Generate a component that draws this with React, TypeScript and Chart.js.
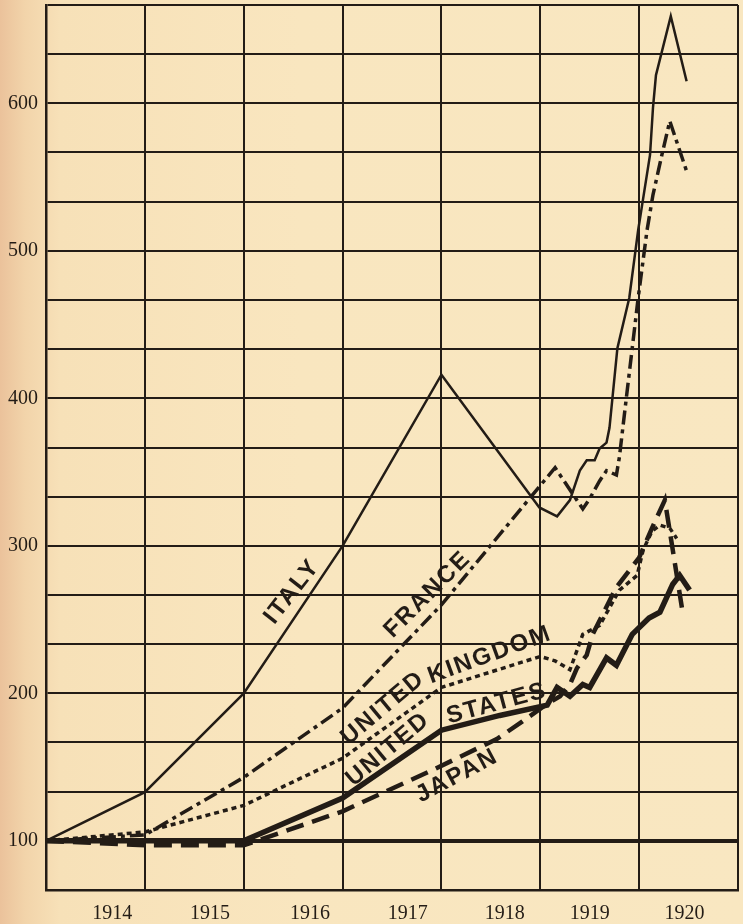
import React, { useEffect, useRef } from 'react';
import { Chart, registerables } from 'chart.js';
Chart.register(...registerables);

// ---- axes ----
const X_MIN = 0;
const X_MAX = 7;
const Y_MIN = 200 / 3;
const Y_MAX = 2000 / 3;
const Y_STEP = 100 / 3;
const GRID_X = [0, 1, 2, 3, 4, 5, 6, 7];
const Y_LABELED = [100, 200, 300, 400, 500, 600];
const YEAR_LABELS = ['1914', '1915', '1916', '1917', '1918', '1919', '1920'];
const YEAR_POS = [0.67, 1.66, 2.67, 3.66, 4.64, 5.5, 6.46];

// ---- series ----
const ITALY_X = [0, 1, 2, 3, 4, 4.99, 5.17, 5.3, 5.4, 5.47, 5.55, 5.6, 5.67, 5.7, 5.78, 5.9, 5.99, 6.03, 6.11, 6.14, 6.17, 6.32, 6.48];
const ITALY_Y = [100, 133, 200, 300, 416, 326, 320, 331, 351, 358, 358, 366, 370, 380, 434, 468, 514, 531, 565, 597, 619, 659, 615];

const FRANCE_X = [0, 1, 2, 3, 4, 5.15, 5.43, 5.5, 5.6, 5.67, 5.77, 5.8, 5.87, 5.93, 5.99, 6.08, 6.14, 6.23, 6.31, 6.48];
const FRANCE_Y = [100, 104, 143, 190, 260, 353, 325, 332, 344, 351, 348, 360, 400, 434, 468, 514, 538, 565, 588, 554];

const UK_X = [0, 1, 2, 3, 4, 5.0, 5.15, 5.3, 5.36, 5.43, 5.6, 5.7, 5.8, 5.98, 6.04, 6.13, 6.21, 6.31, 6.38];
const UK_Y = [100, 106, 124, 156, 204, 225, 222, 216, 227, 240, 246, 258, 270, 280, 297, 310, 314, 312, 305];

const US_X = [0, 1, 2, 3, 4, 4.59, 5.07, 5.17, 5.3, 5.43, 5.5, 5.67, 5.77, 5.93, 6.1, 6.21, 6.34, 6.41, 6.51];
const US_Y = [100, 100, 100, 129, 175, 185, 192, 204, 198, 206, 204, 224, 219, 240, 251, 255, 274, 280, 270];

const JAPAN_X = [0, 1, 2, 3, 3.91, 4.56, 4.82, 5.05, 5.2, 5.3, 5.37, 5.47, 5.53, 5.77, 6.0, 6.13, 6.26, 6.44];
const JAPAN_Y = [100, 97, 97, 120, 148, 169, 181, 192, 198, 206, 217, 226, 240, 272, 292, 312, 331, 255];

// ---- in-chart labels ----
const LABEL_TEXT = ['ITALY', 'FRANCE', 'UNITED', 'KINGDOM', 'UNITED', 'STATES', 'JAPAN'];
const LABEL_X = [2.49, 3.86, 3.41, 4.49, 3.46, 4.56, 4.16];
const LABEL_Y = [269, 267, 190, 226, 162, 193, 144];
const LABEL_ANGLE = [-52, -45, -40, -20, -40, -15, -28];

const INK = '#231c16';
const SERIF = '"Liberation Serif", "DejaVu Serif", serif';

const pts = (xs: number[], ys: number[]) => xs.map((x, i) => ({ x, y: ys[i] }));

const labelPlugin = {
  id: 'seriesLabels',
  afterDatasetsDraw(chart: any) {
    const { ctx, scales } = chart;
    const sx = scales.x;
    const sy = scales.y;
    ctx.save();
    ctx.fillStyle = INK;
    ctx.font = 'bold 24px "Liberation Sans", "DejaVu Sans", sans-serif';
    try { (ctx as any).letterSpacing = '2px'; } catch (e) {}
    ctx.textAlign = 'center';
    ctx.textBaseline = 'middle';
    LABEL_TEXT.forEach((t, i) => {
      ctx.save();
      ctx.translate(sx.getPixelForValue(LABEL_X[i]), sy.getPixelForValue(LABEL_Y[i]));
      ctx.rotate((LABEL_ANGLE[i] * Math.PI) / 180);
      ctx.fillText(t, 0, 0);
      ctx.restore();
    });
    ctx.restore();
  },
};

export default function App() {
  const ref = useRef<HTMLCanvasElement>(null);

  useEffect(() => {
    document.body.style.margin = '0';
    if (!ref.current) return;
    const base = {
      fill: false,
      pointRadius: 0,
      tension: 0,
      borderColor: INK,
      borderCapStyle: 'butt' as const,
      borderJoinStyle: 'miter' as const,
    };
    const chart = new Chart(ref.current, {
      type: 'line',
      data: {
        datasets: [
          { ...base, label: 'Italy', data: pts(ITALY_X, ITALY_Y), borderWidth: 2.5 },
          { ...base, label: 'France', data: pts(FRANCE_X, FRANCE_Y), borderWidth: 3.5, borderDash: [14, 5, 4, 5] },
          { ...base, label: 'United Kingdom', data: pts(UK_X, UK_Y), borderWidth: 3.5, borderDash: [5, 4] },
          { ...base, label: 'United States', data: pts(US_X, US_Y), borderWidth: 5.5 },
          { ...base, label: 'Japan', data: pts(JAPAN_X, JAPAN_Y), borderWidth: 4.5, borderDash: [18, 9] },
        ],
      },
      options: {
        responsive: false,
        animation: false,
        devicePixelRatio: 1,
        layout: { padding: { top: 5, right: 5, left: 0, bottom: 0 } },
        plugins: { legend: { display: false }, tooltip: { enabled: false } },
        scales: {
          x: {
            type: 'linear',
            min: X_MIN,
            max: X_MAX,
            afterBuildTicks: (s: any) => {
              const vals = [...GRID_X, ...YEAR_POS].sort((a, b) => a - b);
              s.ticks = vals.map((v) => ({ value: v }));
            },
            afterFit: (s: any) => {
              s.height = 34;
              s.paddingLeft = 0;
              s.paddingRight = 0;
              s.paddingTop = 0;
              s.paddingBottom = 0;
            },
            grid: {
              drawTicks: false,
              color: (c: any) => (c.tick && GRID_X.includes(c.tick.value) ? INK : 'rgba(0,0,0,0)'),
              lineWidth: 2,
            },
            border: { display: true, color: INK, width: 2.5 },
            ticks: {
              autoSkip: false,
              maxRotation: 0,
              padding: 12,
              color: INK,
              font: { family: SERIF, size: 20 },
              callback: (v: any) => {
                const i = YEAR_POS.indexOf(Number(v));
                return i >= 0 ? YEAR_LABELS[i] : '';
              },
            },
          },
          y: {
            type: 'linear',
            min: Y_MIN,
            max: Y_MAX,
            afterBuildTicks: (s: any) => {
              const t = [];
              for (let k = 0; k <= 18; k++) t.push({ value: Y_MIN + k * Y_STEP });
              s.ticks = t;
            },
            afterFit: (s: any) => {
              s.width = 46;
              s.paddingLeft = 0;
              s.paddingRight = 0;
              s.paddingTop = 0;
              s.paddingBottom = 0;
            },
            grid: {
              drawTicks: false,
              color: INK,
              lineWidth: (c: any) => (c.tick && Math.abs(c.tick.value - 100) < 0.5 ? 4 : 2),
            },
            border: { display: true, color: INK, width: 2.5 },
            ticks: {
              autoSkip: false,
              padding: 8,
              color: INK,
              font: { family: SERIF, size: 20 },
              callback: (v: any) => {
                const r = Math.round(Number(v));
                return Y_LABELED.includes(r) && Math.abs(Number(v) - r) < 0.01 ? String(r) : '';
              },
            },
          },
        },
      },
      plugins: [labelPlugin],
    });
    return () => chart.destroy();
  }, []);

  return (
    <div
      style={{
        width: 743,
        height: 924,
        position: 'relative',
        background: 'linear-gradient(to right, #ebc29b 0px, #f2d4aa 25px, #f7e1b8 60px, #f9e6bf 300px, #f9e7c1 100%)',
      }}
    >
      <canvas ref={ref} width={743} height={924} style={{ display: 'block', width: 743, height: 924 }} />
    </div>
  );
}
